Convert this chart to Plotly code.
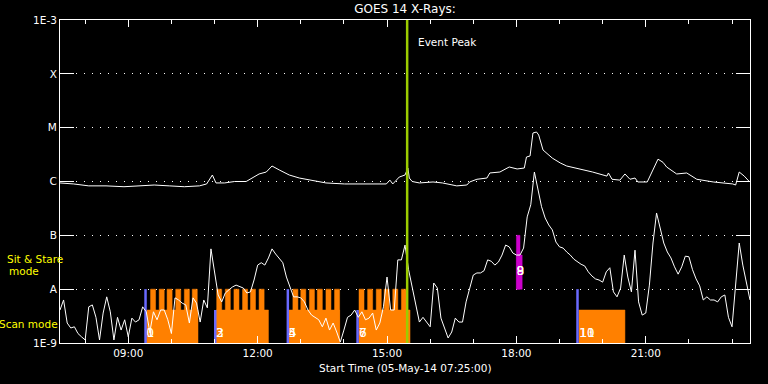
import pandas as pd
import plotly.graph_objects as go

DAY = "2014-05-05 "
X_START, X_END = "07:25", "23:25"

# ---- long channel (1-8 A) ----
long_times = ["07:25","07:44","08:05","08:29","08:54","09:15","09:36","09:57","10:18","10:39",
              "10:49","10:57","11:02","11:14","11:28","11:44","11:53","12:02","12:12","12:20",
              "12:30","12:44","12:58","13:16","13:35","14:01","14:17","14:43","14:59","15:04",
              "15:08","15:17","15:25","15:29","15:31","15:35","15:45","16:04","16:17","16:37",
              "16:51","16:55","17:05","17:19","17:23","17:37","17:46","17:50","18:01","18:11",
              "18:14","18:19","18:23","18:28","18:31","18:37","18:50","19:01","19:10","19:28",
              "19:46","20:06","20:08","20:13","20:24","20:31","20:38","20:45","20:49","21:02",
              "21:10","21:17","21:24","21:29","21:43","21:57","22:11","22:34","23:01","23:05",
              "23:10","23:17","23:24"]
long_flux = [9.4e-7, 9.0e-7, 8.3e-7, 8.3e-7, 8.0e-7, 8.3e-7, 8.6e-7, 8.3e-7, 8.0e-7, 8.3e-7,
             9.0e-7, 1.32e-6, 9.4e-7, 9.4e-7, 1.0e-6, 1.0e-6, 1.16e-6, 1.38e-6, 1.50e-6, 1.94e-6,
             1.64e-6, 1.32e-6, 1.16e-6, 1.06e-6, 9.4e-7, 9.0e-7, 9.0e-7, 9.0e-7, 9.0e-7, 1.06e-6,
             9.0e-7, 1.21e-6, 1.32e-6, 1.78e-6, 1.16e-6, 1.0e-6, 9.4e-7, 9.8e-7, 9.4e-7, 8.3e-7,
             8.6e-7, 9.8e-7, 1.10e-6, 1.16e-6, 1.44e-6, 1.50e-6, 1.71e-6, 1.86e-6, 1.71e-6, 1.78e-6,
             2.85e-6, 2.98e-6, 7.96e-6, 8.3e-6, 7.3e-6, 3.85e-6, 2.72e-6, 2.21e-6, 1.94e-6, 1.71e-6,
             1.50e-6, 1.26e-6, 1.44e-6, 1.10e-6, 1.06e-6, 1.38e-6, 1.10e-6, 1.16e-6, 9.8e-7, 9.8e-7,
             1.64e-6, 2.6e-6, 2.27e-6, 1.86e-6, 1.38e-6, 1.44e-6, 1.10e-6, 9.8e-7, 9.0e-7, 8.6e-7,
             1.50e-6, 1.26e-6, 1.0e-6]

# ---- short channel (0.5-4 A), sampled every 5 minutes from 07:25 ----
short_step_min = 5
short_flux = [
    4.1e-9, 6.3e-9, 2.35e-9, 1.9e-9, 2.0e-9, 1.5e-9, 1.3e-9, 1.14e-9, 4.7e-9, 5.1e-9,
    3.0e-9, 1.14e-9, 3.6e-9, 7.2e-9, 3.8e-9, 1.14e-9, 3.0e-9, 1.74e-9, 2.7e-9, 1.3e-9,
    2.9e-9, 2.45e-9, 2.7e-9, 4.7e-9, 3.8e-9, 1.6e-9, 3.8e-9, 2.7e-9, 4.1e-9, 4.1e-9,
    2.7e-9, 1.5e-9, 6.9e-9, 6.3e-9, 5.5e-9, 5.1e-9, 2.35e-9, 6.9e-9, 5.5e-9, 2.45e-9,
    6.3e-9, 4.5e-9, 5.6e-8, 2.0e-8, 7.8e-9, 5.8e-9, 8.5e-9, 9.7e-9, 1.1e-8, 1.19e-8,
    1.1e-8, 1.05e-8, 8.5e-9, 8.9e-9, 1.48e-8, 2.8e-8, 3.1e-8, 2.8e-8, 3.8e-8, 5.6e-8,
    4.5e-8, 3.8e-8, 3.1e-8, 1.68e-8, 1.1e-8, 7.2e-9, 7.2e-9, 6.9e-9, 5.8e-9, 4.1e-9,
    3.3e-9, 3.0e-9, 2.7e-9, 2.0e-9, 2.9e-9, 1.74e-9, 2.35e-9, 1.6e-9, 1.04e-9, 1.74e-9,
    3.0e-9, 3.3e-9, 4.1e-9, 3.0e-9, 3.8e-9, 2.7e-9, 2.9e-9, 3.6e-9, 1.74e-9, 2.35e-9,
    4.7e-9, 1.68e-8, 4.1e-9, 4.1e-9, 3.5e-8, 3.5e-8, 6.6e-8, 2.3e-8, 1.1e-8, 5.1e-9,
    2.45e-9, 3.0e-9, 2.45e-9, 2.0e-9, 1.3e-8, 1.05e-8, 2.9e-9, 1.9e-9, 1.24e-9, 1.6e-9,
    2.9e-9, 2.45e-9, 2.45e-9, 5.8e-9, 1.05e-8, 1.83e-8, 2.0e-8, 2.0e-8, 2.2e-8, 3.5e-8,
    3.3e-8, 2.8e-8, 3.2e-8, 4.3e-8, 6.6e-8, 6.1e-8, 4.7e-8, 4.3e-8, 4.3e-8, 5.8e-8,
    2.2e-7, 3.7e-7, 1.5e-6, 7.6e-7, 3.4e-7, 2.1e-7, 1.56e-7, 1.26e-7, 7.5e-8, 6.1e-8,
    5.8e-8, 4.9e-8, 4.3e-8, 3.6e-8, 3.2e-8, 2.9e-8, 2.7e-8, 2.1e-8, 1.76e-8, 1.55e-8,
    1.48e-8, 1.35e-8, 2.1e-8, 2.5e-8, 8.9e-9, 7.2e-9, 1.05e-8, 4.3e-8, 1.68e-8, 8.9e-9,
    5.3e-8, 5.8e-9, 3.3e-9, 3.6e-9, 1.19e-8, 7.2e-8, 2.6e-7, 1.43e-7, 7.2e-8, 4.9e-8,
    3.8e-8, 2.6e-8, 1.9e-8, 2.6e-8, 4.1e-8, 4.0e-8, 2.3e-8, 1.55e-8, 1.15e-8, 6.3e-9,
    7.2e-9, 6.3e-9, 6.3e-9, 5.8e-9, 7.2e-9, 7.8e-9, 3.0e-9, 2.0e-9, 1.1e-8, 7.2e-8,
    2.8e-8, 1.3e-8, 6.3e-9]

# ---- scan mode rasters ----
scan_marker = ["09:24", "11:01", "12:42", "14:19", "19:25"]
scan_marker_top = [1e-8, 4.1e-9, 1e-8, 4.1e-9, 1e-8]
scan_start = ["09:25", "11:02", "12:43", "14:21", "19:27"]
scan_end = ["10:37", "12:15", "13:54", "15:32", "20:31"]
scan_base_top = 4.1e-9
tooth_top = 1e-8
tooth_minutes = 7
tooth_starts = [
    ["09:31", "09:43", "09:54", "10:06", "10:18", "10:29"],
    ["11:03", "11:15", "11:27", "11:39", "11:50", "12:02"],
    ["12:49", "13:00", "13:12", "13:23", "13:35", "13:47"],
    ["14:21", "14:33", "14:45", "14:56", "15:08", "15:20"],
    [],
]
scan_labels = [("0", "1"), ("2", "3"), ("4", "5"), ("6", "7"), ("10", "11")]
scan_label_flux = 1.5e-9

# ---- sit & stare ----
sit_bars = [("18:00", "18:05", 1e-8, 1e-7), ("18:00", "18:08", 1e-8, 4.3e-8)]
sit_label = ("8", "9")
sit_label_time = "18:00"
sit_label_flux = 2.1e-8

event_peak = "15:28"

level_vals = [1e-9, 1e-8, 1e-7, 1e-6, 1e-5, 1e-4, 1e-3]
level_text = ["1E-9", "A", "B", "C", "M", "X", "1E-3"]

FLOOR = 1e-9
TOP = 1e-3


def ts(hm):
    return pd.Timestamp(DAY + hm)


def add_rect(xs, ys, t0, t1, lo, hi):
    xs += [t0, t1, t1, t0, t0, None]
    ys += [lo, lo, hi, hi, lo, None]


fig = go.Figure()

# orange base blocks
bx, by = [], []
for s, e in zip(scan_start, scan_end):
    add_rect(bx, by, ts(s), ts(e), FLOOR, scan_base_top)
fig.add_trace(go.Scatter(x=bx, y=by, mode="lines", fill="toself", fillcolor="#ff8000",
                         line=dict(width=0.5, color="#ff8000"), hoverinfo="skip"))
# orange teeth
tx, ty = [], []
for starts in tooth_starts:
    for s in starts:
        add_rect(tx, ty, ts(s), ts(s) + pd.Timedelta(minutes=tooth_minutes), FLOOR, tooth_top)
fig.add_trace(go.Scatter(x=tx, y=ty, mode="lines", fill="toself", fillcolor="#ff8000",
                         line=dict(width=0.5, color="#ff8000"), hoverinfo="skip"))
# magenta sit & stare
mx, my = [], []
for s, e, lo, hi in sit_bars:
    add_rect(mx, my, ts(s), ts(e), lo, hi)
fig.add_trace(go.Scatter(x=mx, y=my, mode="lines", fill="toself", fillcolor="#cc00cc",
                         line=dict(width=0.5, color="#cc00cc"), hoverinfo="skip"))
# blue raster start markers
lx, ly = [], []
for t, top in zip(scan_marker, scan_marker_top):
    lx += [ts(t), ts(t), None]
    ly += [FLOOR, top, None]
fig.add_trace(go.Scatter(x=lx, y=ly, mode="lines", line=dict(width=2.5, color="#6a6aff"),
                         hoverinfo="skip"))

# curves
short_times = pd.date_range(ts(X_START), periods=len(short_flux), freq=f"{short_step_min}min")
fig.add_trace(go.Scatter(x=short_times, y=short_flux, mode="lines",
                         line=dict(width=1, color="white"), hoverinfo="skip"))
fig.add_trace(go.Scatter(x=[ts(t) for t in long_times], y=long_flux, mode="lines",
                         line=dict(width=1, color="white"), hoverinfo="skip"))

# event peak line
fig.add_trace(go.Scatter(x=[ts(event_peak), ts(event_peak)], y=[FLOOR, TOP], mode="lines",
                         line=dict(width=2.5, color="#9ccc00"), hoverinfo="skip"))

# raster labels (two numbers overlaid)
lab_font = dict(family="DejaVu Sans Mono", size=13, color="white")
for k in range(2):
    fig.add_trace(go.Scatter(
        x=[ts(s) for s in scan_start] + [ts(sit_label_time)],
        y=[scan_label_flux] * len(scan_start) + [sit_label_flux],
        text=[p[k] for p in scan_labels] + [sit_label[k]],
        mode="text", textposition="middle right", textfont=lab_font, hoverinfo="skip"))

base_font = dict(family="DejaVu Sans", size=10.5, color="white")
yellow = dict(family="DejaVu Sans", size=10.5, color="#ffff00")

fig.update_layout(
    width=768, height=384,
    margin=dict(l=60, r=18, t=20, b=41),
    paper_bgcolor="black", plot_bgcolor="black",
    showlegend=False,
    hovermode=False,
    font=base_font,
    title=dict(text="GOES 14 X-Rays:", x=0.5, xref="paper", xanchor="center",
               y=1 - 9 / 384, yref="container", yanchor="middle",
               font=dict(family="DejaVu Sans", size=12, color="white")),
    xaxis=dict(
        type="date", range=[ts(X_START), ts(X_END)],
        tick0=DAY + "00:00", dtick=3 * 3600 * 1000, tickformat="%H:%M",
        ticks="inside", ticklen=7, tickwidth=1, tickcolor="white",
        showline=True, linecolor="white", linewidth=1, mirror="ticks",
        showgrid=False, zeroline=False, tickfont=base_font,
        minor=dict(dtick=3600 * 1000, ticks="inside", ticklen=4, tickcolor="white",
                   showgrid=False),
    ),
    yaxis=dict(
        type="log", range=[-9, -3],
        tickvals=level_vals, ticktext=level_text,
        ticks="inside", ticklen=14, tickwidth=1, tickcolor="white",
        showline=True, linecolor="white", linewidth=1, mirror="ticks",
        showgrid=True, gridcolor="white", gridwidth=1, griddash="1px,7px",
        zeroline=False, tickfont=base_font,
    ),
    annotations=[
        dict(text="Start Time (05-May-14 07:25:00)", xref="paper", yref="paper",
             x=0.5, y=-25 / 323, xanchor="center", yanchor="middle", showarrow=False,
             font=base_font),
        dict(text="Event Peak", xref="x", yref="paper", x=ts(event_peak), xshift=9,
             y=(343 - 42) / 323, xanchor="left", yanchor="middle", showarrow=False,
             font=base_font),
        dict(text="Sit & Stare", xref="paper", yref="paper", x=(34.5 - 60) / 690,
             y=(343 - 259) / 323, xanchor="center", yanchor="middle", showarrow=False,
             font=yellow),
        dict(text="mode", xref="paper", yref="paper", x=(24 - 60) / 690,
             y=(343 - 271) / 323, xanchor="center", yanchor="middle", showarrow=False,
             font=yellow),
        dict(text="Scan mode", xref="paper", yref="paper", x=(28.5 - 60) / 690,
             y=(343 - 324) / 323, xanchor="center", yanchor="middle", showarrow=False,
             font=yellow),
    ],
)

fig.write_html("out.html",
               config={"displayModeBar": False, "staticPlot": True},
               post_script="document.body.style.margin='0px';"
                           "document.body.style.background='black';")
